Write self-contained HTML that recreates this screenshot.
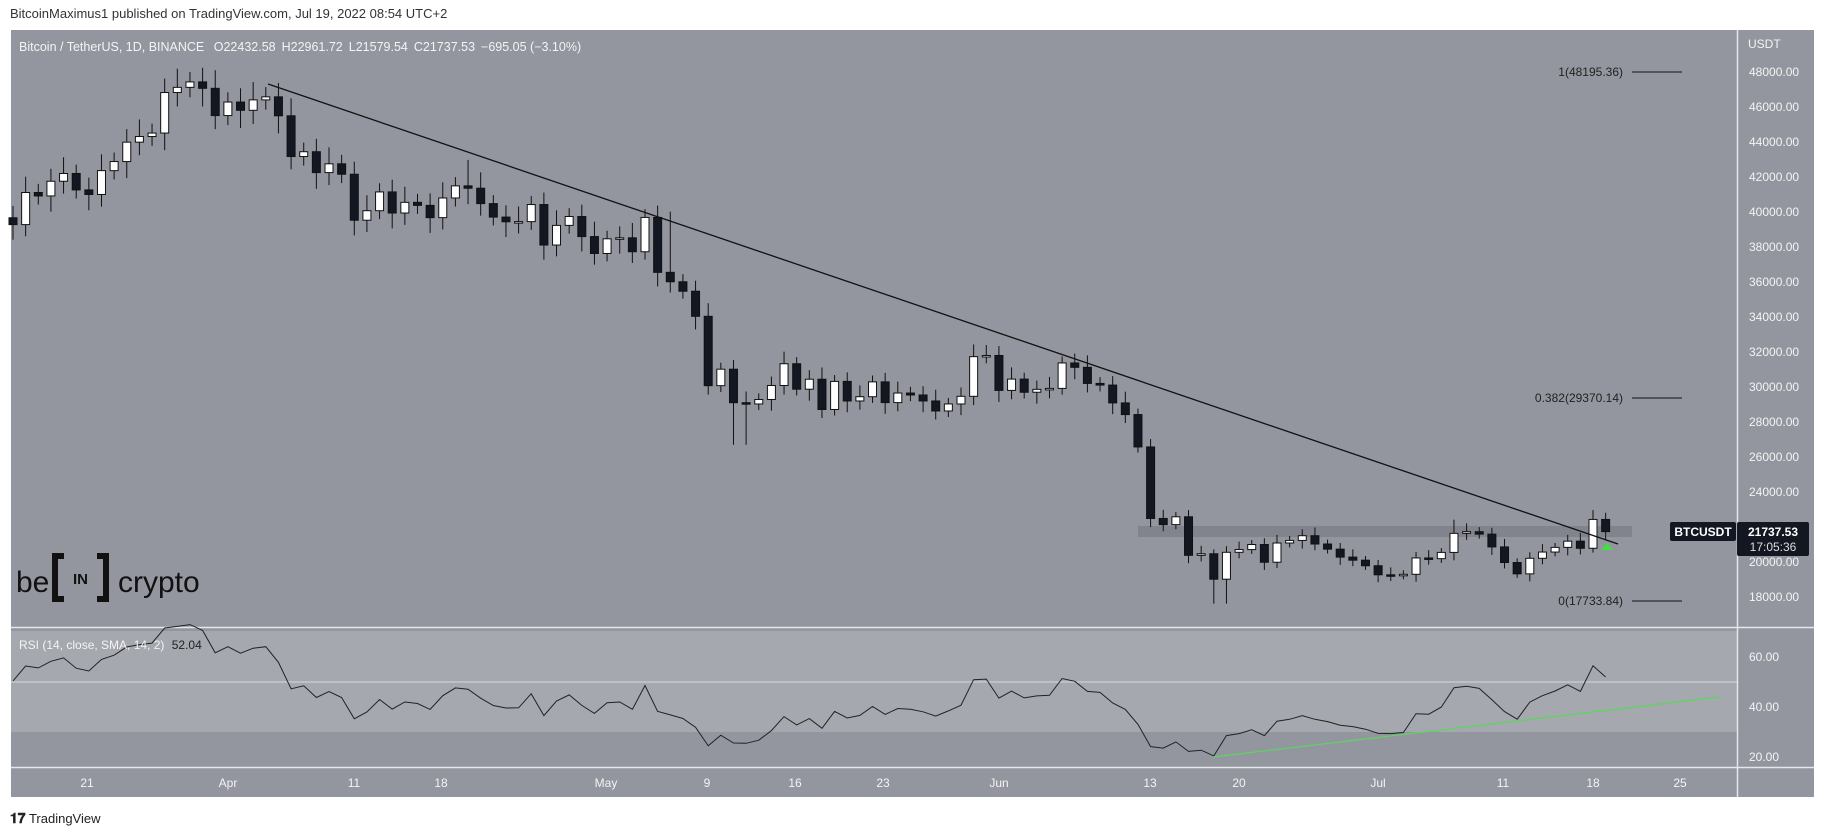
<!DOCTYPE html>
<html><head><meta charset="utf-8"><style>
body{margin:0;width:1825px;height:837px;background:#fff;overflow:hidden;font-family:"Liberation Sans",sans-serif}
svg{position:absolute;left:0;top:0}
</style></head><body>
<svg id="s" width="1825" height="837" xmlns="http://www.w3.org/2000/svg" font-family="Liberation Sans, sans-serif">
<text x="10" y="18" font-size="13" fill="#333">BitcoinMaximus1 published on TradingView.com, Jul 19, 2022 08:54 UTC+2</text>
<rect x="11" y="30" width="1803" height="767" fill="#94969f"/>
<rect x="11" y="631" width="1726" height="101" fill="#a6a8af"/>
<line x1="11" y1="682" x2="1737" y2="682" stroke="#d8d9dc" stroke-width="1"/>
<line x1="11" y1="627.5" x2="1814" y2="627.5" stroke="#e6e7ea" stroke-width="1.5"/>
<line x1="11" y1="767.5" x2="1814" y2="767.5" stroke="#e6e7ea" stroke-width="1.5"/>
<line x1="1737.5" y1="30" x2="1737.5" y2="797" stroke="#e6e7ea" stroke-width="1.5"/>
<rect x="1138" y="526" width="494" height="11" fill="#7d8088" opacity="0.8"/>
<g id="c"></g>
<line x1="268" y1="84" x2="1618" y2="544" stroke="#111" stroke-width="1.3"/>
<polygon points="1601,550 1607,543 1613,550" fill="#3fe03f"/>
<polyline id="rsi" fill="none" stroke="#222" stroke-width="1"/>
<line x1="1213" y1="757" x2="1720" y2="697" stroke="#5fd35f" stroke-width="1.3"/>
<g font-size="12" fill="#222">
<text x="1623" y="76" text-anchor="end">1(48195.36)</text>
<line x1="1632" y1="72" x2="1682" y2="72" stroke="#111"/>
<text x="1623" y="402" text-anchor="end">0.382(29370.14)</text>
<line x1="1632" y1="398" x2="1682" y2="398" stroke="#111"/>
<text x="1623" y="605" text-anchor="end">0(17733.84)</text>
<line x1="1632" y1="601" x2="1682" y2="601" stroke="#111"/>
</g>
<text x="19" y="51" font-size="12.5" fill="#f4f4f4">Bitcoin / TetherUS, 1D, BINANCE <tspan dx="6">O22432.58</tspan><tspan dx="6">H22961.72</tspan><tspan dx="6">L21579.54</tspan><tspan dx="6">C21737.53</tspan><tspan dx="6">−695.05 (−3.10%)</tspan></text>
<text x="1748" y="48" font-size="12" fill="#f4f4f4">USDT</text>
<text x="19" y="649" font-size="12" fill="#f4f4f4">RSI (14, close, SMA, 14, 2) <tspan fill="#222" dx="4">52.04</tspan></text>
<g id="pa" font-size="12" fill="#f4f4f4"></g>
<g font-size="12" fill="#f4f4f4">
<text x="1749" y="661">60.00</text><text x="1749" y="711">40.00</text><text x="1749" y="761">20.00</text>
</g>
<g font-size="12" fill="#f4f4f4" text-anchor="middle">
<text x="87" y="787">21</text><text x="228" y="787">Apr</text><text x="354" y="787">11</text><text x="441" y="787">18</text>
<text x="606" y="787">May</text><text x="707" y="787">9</text><text x="795" y="787">16</text><text x="883" y="787">23</text>
<text x="999" y="787">Jun</text><text x="1150" y="787">13</text><text x="1239" y="787">20</text><text x="1378" y="787">Jul</text>
<text x="1503" y="787">11</text><text x="1593" y="787">18</text><text x="1680" y="787">25</text>
</g>
<rect x="1670" y="522" width="66" height="19" rx="2" fill="#131722"/>
<text x="1703" y="536" font-size="12" fill="#fff" text-anchor="middle" font-weight="bold">BTCUSDT</text>
<rect x="1737" y="522" width="72" height="34" rx="2" fill="#131722"/>
<text x="1773" y="536" font-size="12" fill="#fff" text-anchor="middle" font-weight="bold">21737.53</text>
<text x="1773" y="551" font-size="12" fill="#ddd" text-anchor="middle">17:05:36</text>
<text x="16" y="592" font-size="30" fill="#111">be</text>
<path d="M64 556 H55 V599 H64 M97 556 H106 V599 H97" fill="none" stroke="#111" stroke-width="6"/>
<text x="80.5" y="584" font-size="15" font-weight="bold" fill="#111" text-anchor="middle">IN</text>
<text x="118" y="592" font-size="30" fill="#111">crypto</text>
<text x="10" y="823" font-size="13" fill="#222"><tspan font-weight="bold" font-size="14">𝟏𝟕</tspan> TradingView</text>
</svg>
<script>
var cl=[39671,39280,41114,40917,41757,42201,41262,41002,42364,42882,43991,44313,44511,46827,47122,47434,47067,45510,46283,45811,46407,46580,45497,43170,43444,42252,42753,42158,39530,40074,41147,39942,40552,40378,39678,40801,41493,41358,40480,39709,39441,39450,40426,38112,39235,39742,38596,37630,38468,38525,37729,39690,36552,36013,35472,34039,30076,31017,29103,29030,29287,30086,31329,29874,30444,28715,30319,29201,29445,30293,29109,29655,29543,29202,28630,29031,29468,31734,31801,29805,30452,29700,29865,29920,31374,31125,30204,30110,29091,28424,26575,22487,22136,22584,20381,20471,19017,20554,20710,21000,19987,21085,21232,21502,21028,20735,20280,20104,19785,19269,19243,19297,20231,20190,20548,21637,21731,21592,20861,19970,19323,20212,20569,20836,21191,20785,22432,21737];
var hx={14:48189,37:42976,58:26700,78:32400,96:17622,115:22420,126:22961,53:40023};
function X(d){return 1593+12.64*(d-199)}
function Y(p){return 562-(p-20000)*0.0175}
var g=document.getElementById('c'),h='';
for(var i=1;i<cl.length;i++){var o=cl[i-1],c=cl[i],x=X(73+i);
var hi=Math.max(o,c)*(1+0.012+0.01*((i*7)%3)/2),lo=Math.min(o,c)*(1-0.012-0.01*((i*5)%3)/2);
if(hx[i]){if(hx[i]>Math.max(o,c))hi=hx[i];else lo=hx[i];}
if(i==97)lo=17622;if(i==59)lo=26700;
h+='<line x1="'+x+'" y1="'+Y(hi)+'" x2="'+x+'" y2="'+Y(lo)+'" stroke="#111"/>';
var t=Y(Math.max(o,c)),b=Y(Math.min(o,c));if(b-t<1.5)b=t+1.5;
h+='<rect x="'+(x-4)+'" y="'+t+'" width="8" height="'+(b-t)+'" fill="'+(c>=o?'#fff':'#131722')+'" stroke="#111" stroke-width="1"/>';}
g.innerHTML=h;
var ag=560,al=520,pts=[];
for(var i=1;i<cl.length;i++){var d=cl[i]-cl[i-1];ag=(ag*13+Math.max(d,0))/14;al=(al*13+Math.max(-d,0))/14;
var r=100-100/(1+ag/al);pts.push(X(73+i).toFixed(1)+','+(657-(r-60)*2.5).toFixed(1));}
document.getElementById('rsi').setAttribute('points',pts.join(' '));
var pa='';for(var p=18000;p<=48000;p+=2000){if(p==22000)continue;pa+='<text x="1749" y="'+(Y(p)+4)+'">'+p+'.00</text>';}
document.getElementById('pa').innerHTML=pa;
</script>
</body></html>
